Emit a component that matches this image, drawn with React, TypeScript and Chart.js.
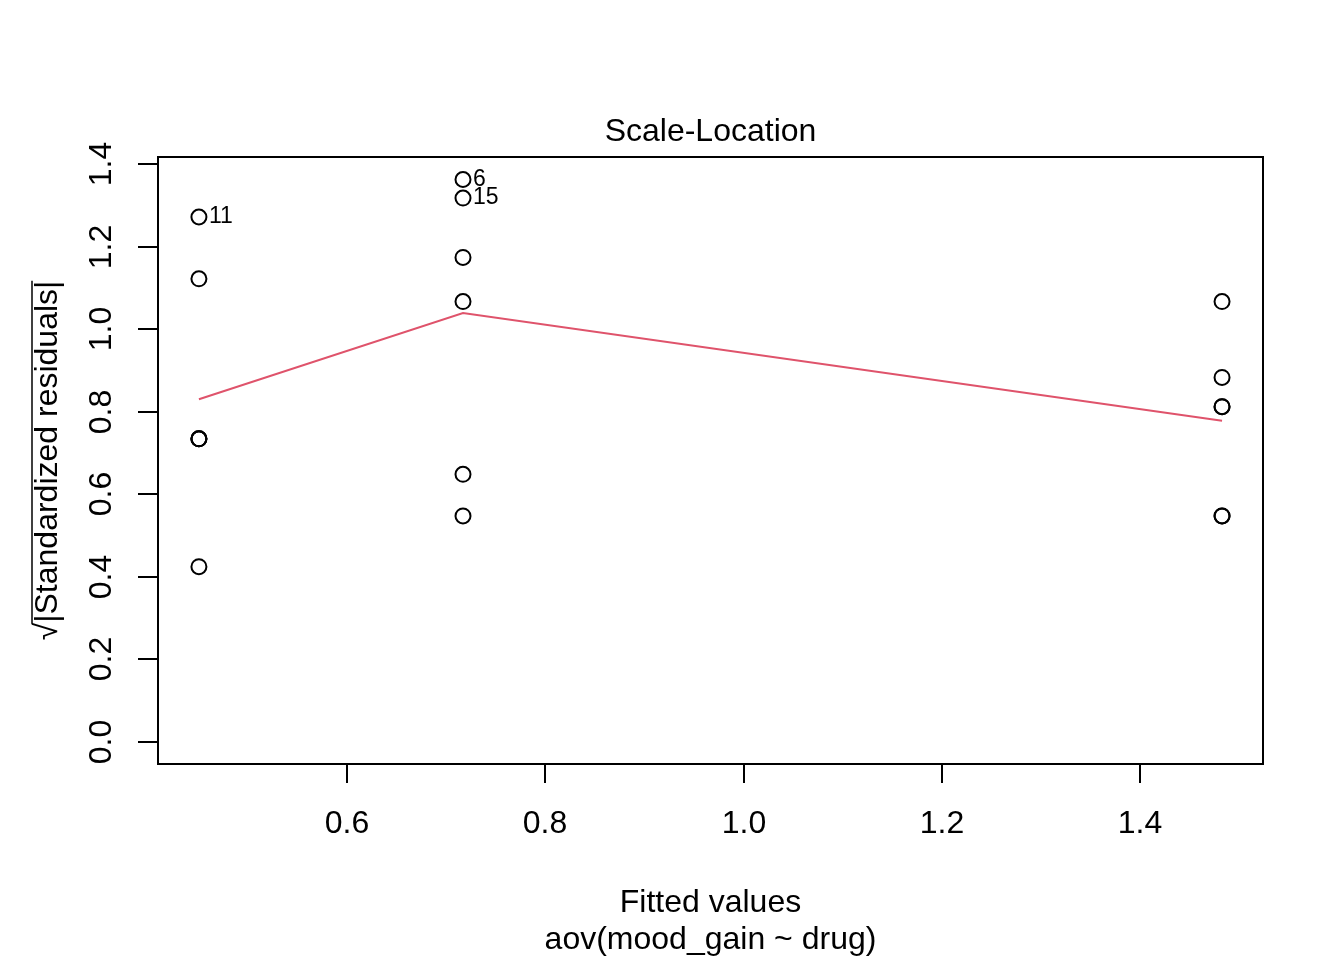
import React, { useEffect, useRef } from "react";
import { Chart, registerables } from "chart.js";

Chart.register(...registerables);

// Fitted values (group means) for each observation
const fittedValues = [
  0.45, 0.45, 0.45, 0.45, 0.45, 0.45,
  0.7167, 0.7167, 0.7167, 0.7167, 0.7167, 0.7167,
  1.4833, 1.4833, 1.4833, 1.4833, 1.4833, 1.4833,
];
// sqrt(|standardized residuals|)
const sqrtStdResiduals = [
  1.272, 1.122, 0.734, 0.734, 0.734, 0.424,
  1.363, 1.318, 1.174, 1.067, 0.648, 0.547,
  1.067, 0.883, 0.812, 0.812, 0.547, 0.547,
];
// Observation ids labelled on the plot (index into arrays above)
const labelledIndex = [0, 6, 7];
const labelledText = ["11", "6", "15"];

// Smoother (red line)
const smoothX = [0.45, 0.7167, 1.4833];
const smoothY = [0.83, 1.039, 0.778];

const xTicks = [0.6, 0.8, 1.0, 1.2, 1.4];
const yTicks = [0.0, 0.2, 0.4, 0.6, 0.8, 1.0, 1.2, 1.4];

const title = "Scale-Location";
const xTitle = "Fitted values";
const subTitle = "aov(mood_gain ~ drug)";
const yTitleRadical = "√";
const yTitleBody = "|Standardized residuals|";

const FONT = '"Liberation Sans", Arial, Helvetica, sans-serif';

const rAxesPlugin = {
  id: "rAxes",
  afterDraw(chart: any) {
    const ctx = chart.ctx as CanvasRenderingContext2D;
    const area = chart.chartArea;
    const xs = chart.scales.x;
    const ys = chart.scales.y;
    ctx.save();
    ctx.strokeStyle = "#000";
    ctx.fillStyle = "#000";
    ctx.lineWidth = 2;
    // box
    ctx.strokeRect(area.left, area.top, area.right - area.left, area.bottom - area.top);

    // x axis
    ctx.beginPath();
    ctx.moveTo(xs.getPixelForValue(xTicks[0]), area.bottom);
    ctx.lineTo(xs.getPixelForValue(xTicks[xTicks.length - 1]), area.bottom);
    ctx.stroke();
    ctx.font = `32px ${FONT}`;
    ctx.textAlign = "center";
    ctx.textBaseline = "alphabetic";
    xTicks.forEach((v) => {
      const px = Math.round(xs.getPixelForValue(v));
      ctx.beginPath();
      ctx.moveTo(px, area.bottom);
      ctx.lineTo(px, area.bottom + 19);
      ctx.stroke();
      ctx.fillText(v.toFixed(1), px, area.bottom + 69);
    });

    // y axis
    ctx.beginPath();
    ctx.moveTo(area.left, ys.getPixelForValue(yTicks[0]));
    ctx.lineTo(area.left, ys.getPixelForValue(yTicks[yTicks.length - 1]));
    ctx.stroke();
    yTicks.forEach((v) => {
      const py = Math.round(ys.getPixelForValue(v));
      ctx.beginPath();
      ctx.moveTo(area.left - 20, py);
      ctx.lineTo(area.left, py);
      ctx.stroke();
      ctx.save();
      ctx.translate(area.left - 47, py);
      ctx.rotate(-Math.PI / 2);
      ctx.textAlign = "center";
      ctx.textBaseline = "alphabetic";
      ctx.fillText(v.toFixed(1), 0, 0);
      ctx.restore();
    });

    // titles
    const cx = (area.left + area.right) / 2;
    ctx.textAlign = "center";
    ctx.fillText(title, cx, area.top - 16);
    ctx.fillText(xTitle, cx, area.bottom + 148);
    ctx.fillText(subTitle, cx, area.bottom + 185);

    // y title with radical
    const cy = (area.top + area.bottom) / 2;
    ctx.save();
    ctx.translate(57, cy);
    ctx.rotate(-Math.PI / 2);
    const wRad = ctx.measureText(yTitleRadical).width;
    const wBody = ctx.measureText(yTitleBody).width;
    const total = wRad + wBody;
    const start = -total / 2;
    ctx.textAlign = "left";
    ctx.fillText(yTitleRadical, start, 0);
    ctx.fillText(yTitleBody, start + wRad, 0);
    ctx.beginPath();
    ctx.lineWidth = 1.5;
    ctx.moveTo(start + wRad - 1, -25);
    ctx.lineTo(start + total, -25);
    ctx.stroke();
    ctx.restore();

    // point id labels
    ctx.font = `23px ${FONT}`;
    ctx.textAlign = "left";
    ctx.textBaseline = "middle";
    labelledIndex.forEach((idx, i) => {
      const px = xs.getPixelForValue(fittedValues[idx]);
      const py = ys.getPixelForValue(sqrtStdResiduals[idx]);
      ctx.fillText(labelledText[i], px + 10, py);
    });
    ctx.restore();
  },
};

export default function App() {
  const ref = useRef<HTMLCanvasElement | null>(null);
  useEffect(() => {
    if (!ref.current) return;
    const chart = new Chart(ref.current, {
      type: "scatter",
      data: {
        datasets: [
          {
            type: "scatter",
            data: fittedValues.map((x, i) => ({ x, y: sqrtStdResiduals[i] })),
            pointStyle: "circle",
            pointRadius: 7.5,
            pointBorderWidth: 2,
            pointBorderColor: "#000",
            pointBackgroundColor: "rgba(0,0,0,0)",
            clip: false,
          } as any,
          {
            type: "line",
            data: smoothX.map((x, i) => ({ x, y: smoothY[i] })),
            borderColor: "#DF536B",
            borderWidth: 2,
            pointRadius: 0,
            fill: false,
            tension: 0,
            clip: false,
          } as any,
        ],
      },
      options: {
        responsive: false,
        animation: false,
        devicePixelRatio: 1,
        layout: { padding: { left: 158, right: 81, top: 157, bottom: 196 } },
        plugins: { legend: { display: false }, tooltip: { enabled: false } },
        events: [],
        scales: {
          x: { type: "linear", min: 0.408667, max: 1.524667, display: false },
          y: { type: "linear", min: -0.0545, max: 1.4175, display: false },
        },
      },
      plugins: [rAxesPlugin],
    });
    return () => chart.destroy();
  }, []);
  return (
    <div style={{ position: "absolute", left: 0, top: 0, width: 1344, height: 960, background: "#fff" }}>
      <canvas ref={ref} width={1344} height={960} style={{ width: 1344, height: 960 }} />
    </div>
  );
}
